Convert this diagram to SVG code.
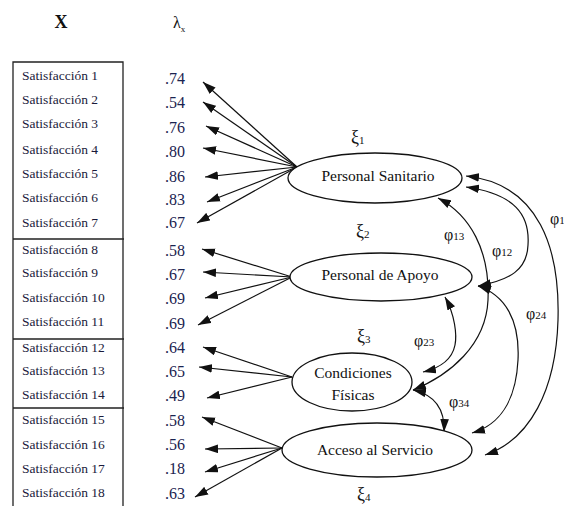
<svg xmlns="http://www.w3.org/2000/svg" width="564" height="506" viewBox="0 0 564 506" font-family="'Liberation Serif', 'DejaVu Serif', 'Times New Roman', Times, serif">
<style>
text{font-family:'Liberation Serif','DejaVu Serif','Times New Roman',Times,serif;fill:#1a1a3a}
.item{font-size:13.5px}
.num{font-size:16px;fill:#1a2350}
.lab{font-size:15.5px;text-anchor:middle;fill:#111}
.gk{font-size:18px;fill:#111}
.ph{font-size:16px;fill:#111}
.sub{font-size:11px}
.box{fill:none;stroke:#222;stroke-width:1.3}
.ell{fill:#fff;stroke:#111;stroke-width:1.3}
.ld{stroke:#111;stroke-width:1.2;fill:none;marker-end:url(#ah)}
.cv{stroke:#111;stroke-width:1.2;fill:none;marker-start:url(#ah);marker-end:url(#ah)}
</style>
<defs>
<marker id="ah" viewBox="0 0 12 8" refX="12" refY="4" markerUnits="userSpaceOnUse" markerWidth="13" markerHeight="9" orient="auto-start-reverse">
<path d="M0,0 L12,4 L0,8 z" fill="#111"/>
</marker>
</defs>
<rect width="564" height="506" fill="#fff"/>

<g id="headers">
<text x="61" y="28" style="font-size:18px;font-weight:bold;text-anchor:middle;fill:#111">X</text>
<text x="173" y="28" style="font-size:16px;fill:#111">λ<tspan dy="4" style="font-size:9px">x</tspan></text>
</g>

<g id="indicator-box">
<path class="box" d="M13,506 V62 H123 V506 M13,239 H124 M13,339 H124 M13,408 H124"/>
</g>

<g id="indicators">
<text class="item" x="22" y="80">Satisfacción 1</text>
<text class="item" x="22" y="104">Satisfacción 2</text>
<text class="item" x="22" y="128">Satisfacción 3</text>
<text class="item" x="22" y="154">Satisfacción 4</text>
<text class="item" x="22" y="178">Satisfacción 5</text>
<text class="item" x="22" y="202">Satisfacción 6</text>
<text class="item" x="22" y="227">Satisfacción 7</text>
<text class="item" x="22" y="254">Satisfacción 8</text>
<text class="item" x="22" y="277">Satisfacción 9</text>
<text class="item" x="22" y="302">Satisfacción 10</text>
<text class="item" x="22" y="326">Satisfacción 11</text>
<text class="item" x="22" y="352">Satisfacción 12</text>
<text class="item" x="22" y="375">Satisfacción 13</text>
<text class="item" x="22" y="399">Satisfacción 14</text>
<text class="item" x="22" y="424">Satisfacción 15</text>
<text class="item" x="22" y="449">Satisfacción 16</text>
<text class="item" x="22" y="473">Satisfacción 17</text>
<text class="item" x="22" y="497">Satisfacción 18</text>
</g>

<g id="loadings">
<text class="num" x="165" y="84">.74</text>
<text class="num" x="165" y="108">.54</text>
<text class="num" x="165" y="133">.76</text>
<text class="num" x="165" y="157">.80</text>
<text class="num" x="165" y="182">.86</text>
<text class="num" x="165" y="205">.83</text>
<text class="num" x="165" y="228">.67</text>
<text class="num" x="165" y="256">.58</text>
<text class="num" x="165" y="280">.67</text>
<text class="num" x="165" y="304">.69</text>
<text class="num" x="165" y="329">.69</text>
<text class="num" x="165" y="353">.64</text>
<text class="num" x="165" y="377">.65</text>
<text class="num" x="165" y="401">.49</text>
<text class="num" x="165" y="426">.58</text>
<text class="num" x="165" y="450">.56</text>
<text class="num" x="165" y="474">.18</text>
<text class="num" x="165" y="499">.63</text>
</g>

<g id="connectors">
<path class="ld" d="M297,167 L203,82"/>
<path class="ld" d="M297,167 L203,102"/>
<path class="ld" d="M297,167 L206,126"/>
<path class="ld" d="M297,167 L203,148"/>
<path class="ld" d="M297,167 L205,177"/>
<path class="ld" d="M297,167 L207,202"/>
<path class="ld" d="M297,167 L197,223"/>
<path class="ld" d="M292,277 L202,249"/>
<path class="ld" d="M292,277 L203,272"/>
<path class="ld" d="M292,277 L205,298"/>
<path class="ld" d="M292,277 L198,325"/>
<path class="ld" d="M292,377 L203,347"/>
<path class="ld" d="M292,377 L199,367"/>
<path class="ld" d="M292,377 L207,398"/>
<path class="ld" d="M282,448 L202,417"/>
<path class="ld" d="M282,448 L205,449"/>
<path class="ld" d="M282,448 L205,472"/>
<path class="ld" d="M282,448 L195,497"/>
<path class="cv" d="M466,176 C540,184 560,250 558,320 C556,390 530,440 485,455"/>
<path class="cv" d="M466,187 C515,194 530,215 528,245 C527,270 510,280 478,286"/>
<path class="cv" d="M438,198 C470,215 490,250 488,300 C486,345 450,375 413,390"/>
<path class="cv" d="M478,286 C505,295 520,320 518,360 C516,400 500,425 472,433"/>
<path class="cv" d="M445,297 C455,315 457,335 455,345 C452,360 440,368 423,372"/>
<path class="cv" d="M413,390 C435,395 445,410 444,432"/>
</g>

<g id="personal-sanitario">
<ellipse class="ell" cx="375" cy="178" rx="87" ry="25"/>
<text class="lab" x="378" y="181">Personal Sanitario</text>
<text class="gk" x="351" y="143">ξ<tspan class="sub" dy="1">1</tspan></text>
</g>

<g id="personal-apoyo">
<ellipse class="ell" cx="381" cy="277" rx="91" ry="24"/>
<text class="lab" x="380" y="280">Personal de Apoyo</text>
<text class="gk" x="356" y="237">ξ<tspan class="sub" dy="1">2</tspan></text>
</g>

<g id="condiciones-fisicas">
<ellipse class="ell" cx="352" cy="382" rx="60" ry="29"/>
<text class="lab" x="353" y="378">Condiciones</text>
<text class="lab" x="353" y="400">Físicas</text>
<text class="gk" x="357" y="342">ξ<tspan class="sub" dy="1">3</tspan></text>
</g>

<g id="acceso-servicio">
<ellipse class="ell" cx="377" cy="450" rx="95" ry="27"/>
<text class="lab" x="375" y="455">Acceso al Servicio</text>
<text class="gk" x="357" y="500">ξ<tspan class="sub" dy="1">4</tspan></text>
</g>

<g id="phi-labels">
<text class="ph" x="444" y="240">φ<tspan class="sub">13</tspan></text>
<text class="ph" x="492" y="256">φ<tspan class="sub">12</tspan></text>
<text class="ph" x="550" y="224">φ<tspan class="sub">1</tspan></text>
<text class="ph" x="526" y="319">φ<tspan class="sub">24</tspan></text>
<text class="ph" x="414" y="346">φ<tspan class="sub">23</tspan></text>
<text class="ph" x="449" y="407">φ<tspan class="sub">34</tspan></text>
</g>
</svg>
